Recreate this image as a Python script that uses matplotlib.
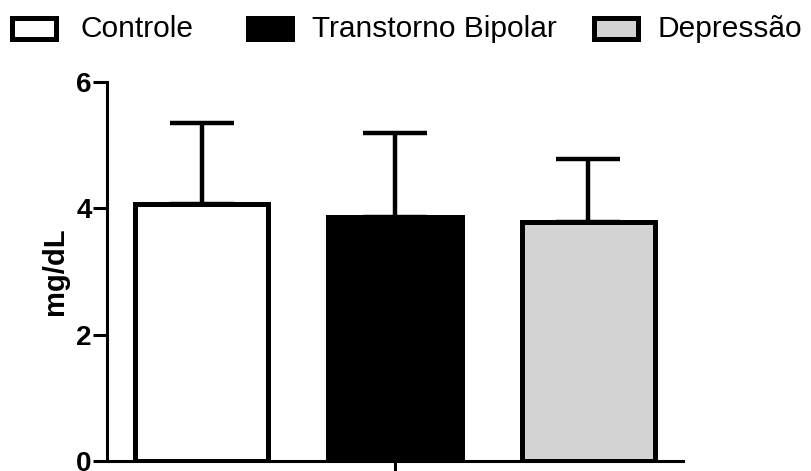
import matplotlib
matplotlib.use('Agg')
import matplotlib.pyplot as plt
from matplotlib.patches import Rectangle

groups = ['Controle', 'Transtorno Bipolar', 'Depressão']
means = [4.07, 3.87, 3.78]
sd = [1.28, 1.32, 1.00]
fills = ['white', 'black', 'lightgray']

plt.rcParams['font.family'] = ['Liberation Sans', 'DejaVu Sans']


def make_chart():
    fig = plt.figure(figsize=(8.11, 4.71), dpi=100)
    ax = fig.add_axes([0.132, 0.021, 0.710, 0.805])

    x = list(range(len(groups)))
    ax.bar(x, means, width=0.69, color=fills, edgecolor='black',
           linewidth=3.6, zorder=2)
    ax.errorbar(x, means, yerr=[[0] * len(sd), sd], fmt='none',
                ecolor='black', elinewidth=3.2, capsize=23, capthick=3.2,
                zorder=3)

    ax.set_xlim(-0.49, 2.49)
    ax.set_ylim(0, 6)
    ax.set_yticks([0, 2, 4, 6])
    ax.set_xticks([1])
    ax.set_xticklabels([''])

    for side in ['top', 'right']:
        ax.spines[side].set_visible(False)
    for side in ['left', 'bottom']:
        ax.spines[side].set_linewidth(2.2)
    ax.tick_params(axis='y', length=10, width=2.2, pad=1, labelsize=20)
    ax.tick_params(axis='x', length=8, width=2.2)
    for lab in ax.get_yticklabels():
        lab.set_fontweight('bold')
    ax.set_ylabel('mg/dL', fontsize=21, fontweight='bold', labelpad=5)

    # legend drawn by hand, boxes and texts as in the original
    box_x = [12, 248, 594]
    txt_x = [80, 312, 657]
    for i, g in enumerate(groups):
        r = Rectangle((box_x[i] / 811, 1 - 39 / 471), 44 / 811, 21 / 471,
                      transform=fig.transFigure, facecolor=fills[i],
                      edgecolor='black', linewidth=3.6)
        fig.patches.append(r)
        fig.text(txt_x[i] / 811, 1 - 29 / 471, g, fontsize=21.5,
                 va='center', ha='left')

    fig.savefig('out.png', dpi=100)


if __name__ == '__main__':
    make_chart()
